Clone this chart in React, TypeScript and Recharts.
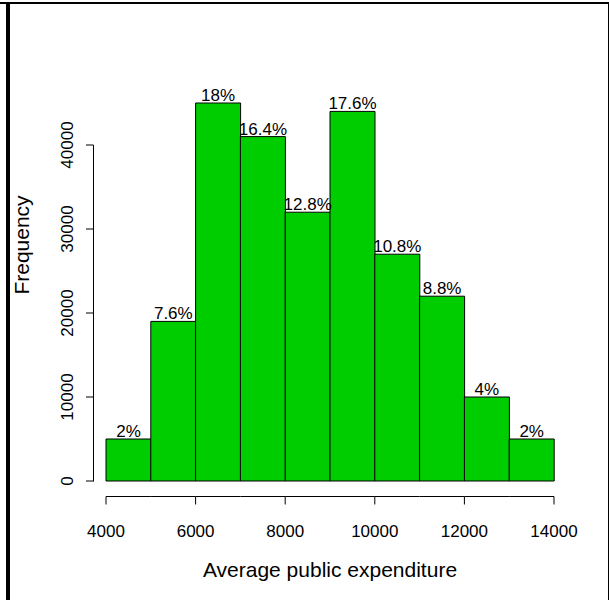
import React from "react";
import { BarChart, Bar, XAxis, YAxis, LabelList } from "recharts";

// Histogram bins (width 1000) and their counts
const binStarts = [4000, 5000, 6000, 7000, 8000, 9000, 10000, 11000, 12000, 13000];
const binWidth = 1000;
const frequencies = [5000, 19000, 45000, 41000, 32000, 44000, 27000, 22000, 10000, 5000];

const xTicks = [4000, 6000, 8000, 10000, 12000, 14000];
const yTicks = [0, 10000, 20000, 30000, 40000];
const yMax = 45000;

const xTitle = "Average public expenditure";
const yTitle = "Frequency";

const FONT = "'Liberation Sans', Arial, Helvetica, sans-serif";
const BAR_FILL = "#00CD00";

const total = frequencies.reduce((a, b) => a + b, 0);

const rows = binStarts.map((start, i) => ({
  start,
  freq: frequencies[i],
  pct: Number(((frequencies[i] / total) * 100).toFixed(1)),
}));

// axes sit slightly detached from the bars
const X_AXIS_GAP = 15;
const Y_AXIS_GAP = 12;
const TICK_LEN = 8;

const CHART_W = 609;
const CHART_H = 600;
const MARGIN = { top: 88, right: 43, bottom: 0, left: 0 };
const Y_AXIS_W = 94;
const X_AXIS_H = 104;
const PLOT_H = CHART_H - MARGIN.top - MARGIN.bottom - X_AXIS_H;
const FALLBACK_HALF_BAND =
  (CHART_W - MARGIN.left - MARGIN.right - Y_AXIS_W - 2 * Y_AXIS_GAP) / binStarts.length / 2;
// pixels per unit on the frequency axis
const Y_PX_PER_UNIT = (PLOT_H - 2 * X_AXIS_GAP) / yMax;

// frequency axis line: from the lowest to the highest tick, left of the plot
const Y_LINE_X = MARGIN.left + Y_AXIS_W - 0.5;
const Y_ZERO_PX = MARGIN.top + PLOT_H - X_AXIS_GAP;
const Y_LINE_Y1 = Y_ZERO_PX - yTicks[0] * Y_PX_PER_UNIT;
const Y_LINE_Y2 = Y_ZERO_PX - yTicks[yTicks.length - 1] * Y_PX_PER_UNIT;

// Each bin draws its piece of the x axis line, plus ticks/labels at bin edges
const BinEdgeTick = (props: any) => {
  const { x, y, payload, index } = props;
  const half = typeof payload.offset === "number" && payload.offset > 0 ? payload.offset : FALLBACK_HALF_BAND;
  const left = x - half;
  const right = x + half;
  const ly = y + 0.5;
  const startVal = Number(payload.value);
  const endVal = startVal + binWidth;
  const isLast = index === binStarts.length - 1;
  const edges: { px: number; v: number }[] = [];
  if (xTicks.includes(startVal)) edges.push({ px: left, v: startVal });
  if (isLast && xTicks.includes(endVal)) edges.push({ px: right, v: endVal });
  return (
    <g>
      <line x1={left} y1={ly} x2={right} y2={ly} stroke="#000" strokeWidth={1} />
      {edges.map((e) => (
        <g key={e.v}>
          <line x1={e.px} y1={ly} x2={e.px} y2={ly + TICK_LEN} stroke="#000" strokeWidth={1} />
          <text
            x={e.px}
            y={y + 41}
            textAnchor="middle"
            fontFamily={FONT}
            fontSize={17}
            fill="#000"
          >
            {e.v}
          </text>
        </g>
      ))}
    </g>
  );
};

// Each y tick draws its tick mark and its rotated label
const YTick = (props: any) => {
  const { x, y, payload } = props;
  const axisX = x + TICK_LEN - 0.5;
  const bx = x - 13;
  return (
    <g>
      <line x1={x} y1={y} x2={axisX} y2={y} stroke="#000" strokeWidth={1} />
      <text
        x={bx}
        y={y}
        transform={`rotate(-90, ${bx}, ${y})`}
        textAnchor="middle"
        fontFamily={FONT}
        fontSize={17}
        fill="#000"
      >
        {payload.value}
      </text>
    </g>
  );
};

const XTitle = (props: any) => {
  const vb = props.viewBox;
  return (
    <text
      x={vb.x + vb.width / 2}
      y={vb.y + 81}
      textAnchor="middle"
      fontFamily={FONT}
      fontSize={21}
      fill="#000"
    >
      {xTitle}
    </text>
  );
};

const YTitle = (props: any) => {
  const vb = props.viewBox;
  const cx = vb.x + 29;
  const cy = vb.y + 157;
  return (
    <text
      x={cx}
      y={cy}
      transform={`rotate(-90, ${cx}, ${cy})`}
      textAnchor="middle"
      fontFamily={FONT}
      fontSize={21}
      fill="#000"
    >
      {yTitle}
    </text>
  );
};

const frameLine = (style: React.CSSProperties): React.CSSProperties => ({
  position: "absolute",
  background: "#000",
  ...style,
});

export default function App() {
  return (
    <div
      style={{
        position: "absolute",
        left: 0,
        top: 0,
        width: CHART_W,
        height: CHART_H,
        background: "#fff",
        overflow: "hidden",
      }}
    >
      <BarChart
        width={CHART_W}
        height={CHART_H}
        data={rows}
        margin={MARGIN}
        barCategoryGap={0}
        barGap={0}
      >
        <XAxis
          dataKey="start"
          type="category"
          interval={0}
          padding={{ left: Y_AXIS_GAP, right: Y_AXIS_GAP }}
          height={X_AXIS_H}
          axisLine={false}
          tickLine={false}
          tickSize={0}
          tickMargin={0}
          tick={<BinEdgeTick />}
          label={XTitle}
        />
        <YAxis
          type="number"
          domain={[0, yMax]}
          ticks={yTicks}
          interval={0}
          width={Y_AXIS_W}
          padding={{ top: X_AXIS_GAP, bottom: X_AXIS_GAP }}
          axisLine={false}
          tickLine={false}
          tickSize={TICK_LEN}
          tickMargin={0}
          tick={<YTick />}
          label={YTitle}
        />
        <Bar
          dataKey="freq"
          fill={BAR_FILL}
          stroke="#000"
          strokeWidth={1}
          isAnimationActive={false}
        >
          <LabelList
            dataKey="pct"
            position="top"
            offset={2}
            formatter={(v: any) => `${v}%`}
            fill="#000"
            fontFamily={FONT}
            fontSize={17}
          />
        </Bar>
      </BarChart>
      <svg
        width={CHART_W}
        height={CHART_H}
        style={{ position: "absolute", left: 0, top: 0, pointerEvents: "none" }}
      >
        <line
          x1={Y_LINE_X}
          y1={Y_LINE_Y1 + 0.5}
          x2={Y_LINE_X}
          y2={Y_LINE_Y2}
          stroke="#000"
          strokeWidth={1}
        />
      </svg>
      <div style={frameLine({ left: 0, top: 2, width: 609, height: 2 })} />
      <div style={frameLine({ left: 6, top: 2, width: 4, height: 598 })} />
      <div style={frameLine({ left: 608, top: 2, width: 1, height: 598 })} />
    </div>
  );
}
